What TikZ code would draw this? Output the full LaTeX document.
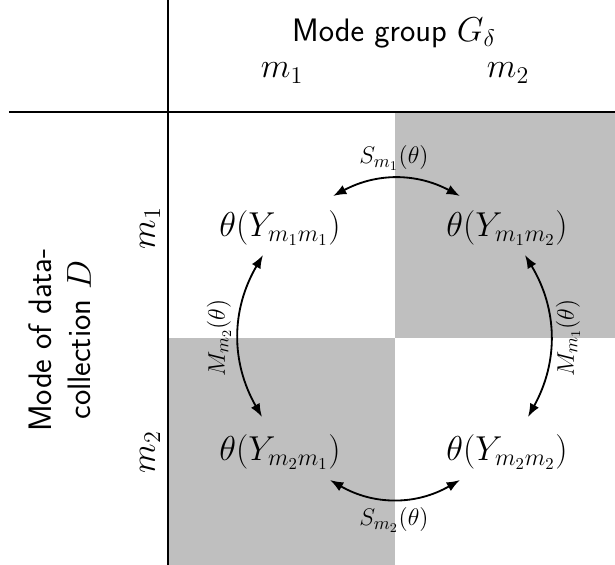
\documentclass[tikz,border=0pt]{standalone}
\usetikzlibrary{arrows.meta,calc}
\DeclareMathSizes{13.5}{13.5}{10.5}{8}
\begin{document}
\begin{tikzpicture}[x=0.6pt,y=-0.6pt,
  cell/.style={font=\fontsize{20.5}{24}\selectfont},
  hdr/.style={font=\fontsize{21}{25}\selectfont},
  lbl/.style={font=\fontsize{13.5}{16}\selectfont},
  ttl/.style={font=\sffamily\fontsize{19.5}{23.5}\selectfont, align=center},
  rule/.style={line width=1.1pt},
  conn/.style={line width=1.1pt, {Latex[length=8pt,width=6pt]}-{Latex[length=8pt,width=6pt]}},
  shade/.style={fill=black!25, draw=none}]
\useasboundingbox (0,0) rectangle (615,565);
\fill[shade] (395,112) rectangle (615,338);
\fill[shade] (168,338) rectangle (395,565);
\draw[rule] (168,0) -- (168,565);
\draw[rule] (9,112) -- (615,112);
\node[ttl] (title) at (394,33) {Mode group $G_\delta$};
\node[hdr] (c1) at (282,73) {$m_1$};
\node[hdr] (c2) at (508,73) {$m_2$};
\node[hdr, rotate=90] (r1) at (150,228) {$m_1$};
\node[hdr, rotate=90] (r2) at (150,452) {$m_2$};
\node[ttl, rotate=90] (side) at (60,340) {Mode of data-\\collection $D$};
\node[cell] (n11) at (280,228) {$\theta(Y_{m_1m_1})$};
\node[cell] (n12) at (507,228) {$\theta(Y_{m_1m_2})$};
\node[cell] (n21) at (280,452) {$\theta(Y_{m_2m_1})$};
\node[cell] (n22) at (507,452) {$\theta(Y_{m_2m_2})$};
\coordinate (t1) at ($(n11)+(53,-32)$);
\coordinate (t2) at ($(n12)+(-47,-32)$);
\coordinate (l1) at ($(n11)+(-17,27)$);
\coordinate (l2) at ($(n21)+(-18,-35)$);
\coordinate (rr1) at ($(n12)+(18,27)$);
\coordinate (rr2) at ($(n22)+(21,-35)$);
\coordinate (b1) at ($(n21)+(50,28)$);
\coordinate (b2) at ($(n22)+(-47,28)$);
\draw[conn] (t1) to[bend left=28] (t2);
\draw[conn] (l2) to[bend left=30] (l1);
\draw[conn] (rr1) to[bend left=30] (rr2);
\draw[conn] (b1) to[bend right=30] (b2);
\node[lbl] (s1) at (394,158) {$S_{m_1}(\theta)$};
\node[lbl] (s2) at (394,520) {$S_{m_2}(\theta)$};
\node[lbl, rotate=90] (mm2) at (219,338) {$M_{m_2}(\theta)$};
\node[lbl, rotate=90] (mm1) at (568,338) {$M_{m_1}(\theta)$};
\end{tikzpicture}
\end{document}
